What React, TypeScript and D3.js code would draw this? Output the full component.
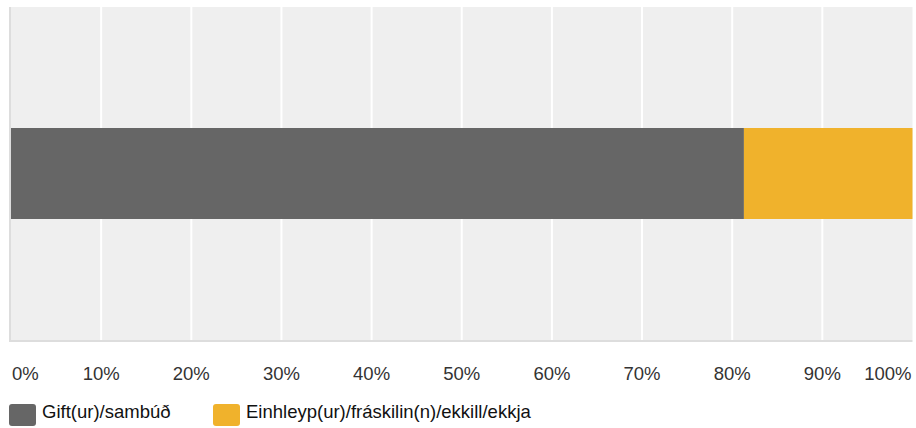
import * as d3 from "d3";

const categories = ["Q"];
const seriesNames = ["Gift(ur)/sambúð", "Einhleyp(ur)/fráskilin(n)/ekkill/ekkja"];
const seriesColors = ["#666666", "#f0b22c"];
const gifturValues = [81.3];
const einhleypValues = [18.7];
const tickValues = [0, 10, 20, 30, 40, 50, 60, 70, 80, 90, 100];

const W = 916;
const H = 428;
const margin = { left: 11, right: 3.5, top: 7, bottom: 88 };

export default function App() {
  const x = d3
    .scaleLinear()
    .domain([0, 100])
    .range([margin.left, W - margin.right]);
  const y = d3
    .scaleBand()
    .domain(categories)
    .range([margin.top, H - margin.bottom])
    .paddingOuter(1.33);

  const rows = categories.map((c, i) => ({
    cat: c,
    vals: [gifturValues[i], einhleypValues[i]],
  }));
  const stacked = d3
    .stack<any>()
    .keys(["0", "1"])
    .value((d, k) => d.vals[+k])(rows);

  const plotBottom = H - margin.bottom;
  const font = "'Liberation Sans', Arial, sans-serif";

  return (
    <svg
      width={W}
      height={H}
      style={{ position: "absolute", left: 0, top: 0 }}
      fontFamily={font}
    >
      <rect
        x={x(0)}
        y={margin.top}
        width={x(100) - x(0)}
        height={plotBottom - margin.top}
        fill="#efefef"
      />
      {tickValues.slice(1, -1).map((t) => (
        <line
          key={t}
          x1={x(t)}
          x2={x(t)}
          y1={margin.top}
          y2={plotBottom}
          stroke="#ffffff"
          strokeWidth={2}
        />
      ))}
      {stacked.map((s, si) =>
        s.map((d, j) => (
          <rect
            key={si + "-" + j}
            x={x(d[0])}
            y={y(categories[j])}
            width={x(d[1]) - x(d[0])}
            height={y.bandwidth()}
            fill={seriesColors[si]}
          />
        ))
      )}
      <line
        x1={x(0) - 1}
        x2={x(0) - 1}
        y1={margin.top}
        y2={plotBottom + 2}
        stroke="#dddddd"
        strokeWidth={2}
      />
      <line
        x1={x(0) - 2}
        x2={x(100)}
        y1={plotBottom + 1}
        y2={plotBottom + 1}
        stroke="#dddddd"
        strokeWidth={2}
      />
      {tickValues.map((t, i) => (
        <text
          key={t}
          x={i === 0 ? x(t) + 1 : i === tickValues.length - 1 ? x(t) - 1 : x(t)}
          y={380}
          fontSize={18.5}
          fill="#333333"
          textAnchor={i === 0 ? "start" : i === tickValues.length - 1 ? "end" : "middle"}
        >
          {t + "%"}
        </text>
      ))}
      {seriesNames.map((n, i) => {
        const lx = i === 0 ? 9 : 213;
        return (
          <g key={n}>
            <rect
              x={lx}
              y={404}
              width={27}
              height={22}
              rx={3}
              fill={seriesColors[i]}
            />
            <text x={lx + 33} y={418} fontSize={18.5} fill="#111111">
              {n}
            </text>
          </g>
        );
      })}
    </svg>
  );
}
